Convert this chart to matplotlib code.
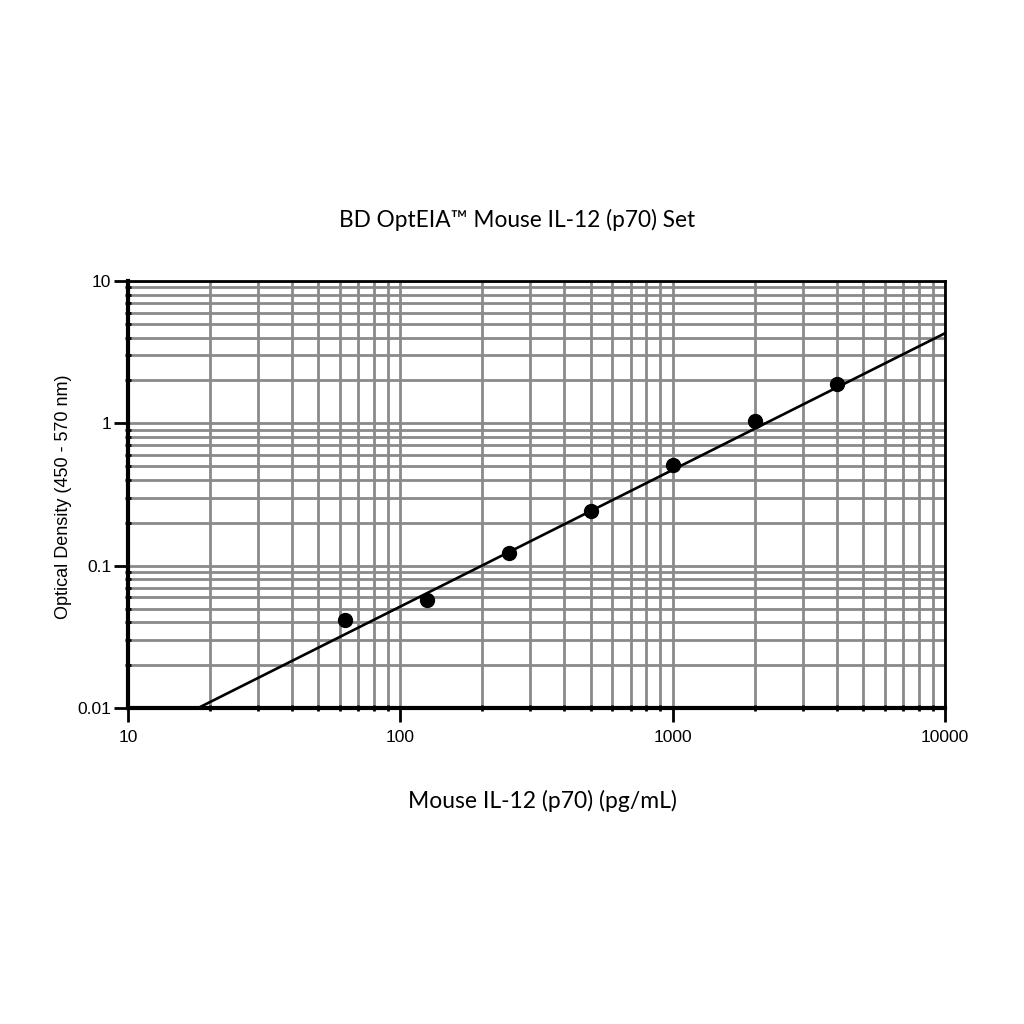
import matplotlib
matplotlib.use('Agg')
from matplotlib import pyplot as plt
import matplotlib.ticker as mtick

# standard concentrations (pg/mL) and optical density
conc = [62.5, 125, 250, 500, 1000, 2000, 4000]
od = [0.0415, 0.057, 0.123, 0.242, 0.509, 1.04, 1.89]

# fitted standard curve, end points
fit_x = [18.1, 10000]
fit_y = [0.01, 4.3]

x_ticks = [10, 100, 1000, 10000]
x_tick_labels = ['10', '100', '1000', '10000']
y_ticks = [0.01, 0.1, 1, 10]
y_tick_labels = ['0.01', '0.1', '1', '10']

fig = plt.figure(figsize=(10.24, 10.24), dpi=100)
ax = fig.add_axes([0.125, 0.3086, 0.798, 0.417])

ax.set_xscale('log')
ax.set_yscale('log')
ax.set_xlim(10, 10000)
ax.set_ylim(0.01, 10)

# grid
ax.grid(True, which='both', color='#8a8a8a', linewidth=2.0, linestyle='-')
ax.set_axisbelow(True)

ax.plot(fit_x, fit_y, color='black', linewidth=1.9, zorder=3)
ax.plot(conc, od, 'o', color='black', markersize=10, zorder=4)

ax.set_xticks(x_ticks)
ax.set_xticklabels(x_tick_labels, fontfamily='Liberation Sans', fontsize=12.5)
ax.set_yticks(y_ticks)
ax.set_yticklabels(y_tick_labels, fontfamily='Liberation Sans', fontsize=12.5)
ax.xaxis.set_minor_locator(mtick.LogLocator(base=10, subs=range(2, 10)))
ax.yaxis.set_minor_locator(mtick.LogLocator(base=10, subs=range(2, 10)))
ax.xaxis.set_minor_formatter(mtick.NullFormatter())
ax.yaxis.set_minor_formatter(mtick.NullFormatter())
ax.tick_params(axis='y', which='major', direction='out', length=10, width=2, pad=2)
ax.tick_params(axis='x', which='major', direction='out', length=10, width=2, pad=6)
ax.tick_params(which='minor', direction='inout', length=5, width=2)
ax.tick_params(top=False, right=False, which='both')

for side in ['left', 'bottom']:
    ax.spines[side].set_linewidth(3)
for side in ['top', 'right']:
    ax.spines[side].set_linewidth(2)

fig.text(0.505, 0.785, 'BD OptEIA™ Mouse IL-12 (p70) Set', ha='center', va='center',
         fontfamily='Lato', fontsize=16.3)
fig.text(0.53, 0.218, 'Mouse IL-12 (p70) (pg/mL)', ha='center', va='center',
         fontfamily='Lato', fontsize=16.5)
fig.text(0.062, 0.515, 'Optical Density (450 - 570 nm)', ha='center', va='center',
         rotation=90, fontfamily='Liberation Sans', fontsize=13)

plt.savefig('out.png', dpi=100, facecolor='white')
